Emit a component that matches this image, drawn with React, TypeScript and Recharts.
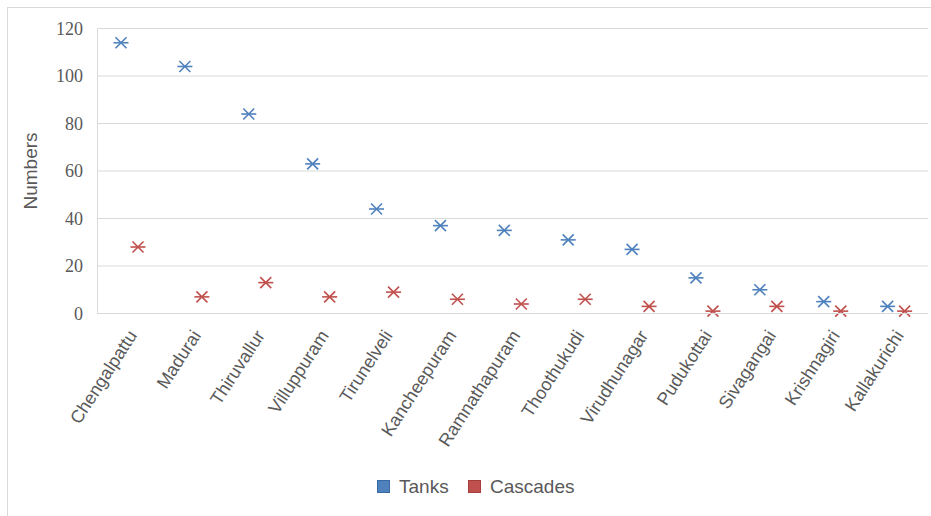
import React from "react";
import { BarChart, Bar, XAxis, YAxis, CartesianGrid } from "recharts";

const districts = [
  "Chengalpattu",
  "Madurai",
  "Thiruvallur",
  "Villuppuram",
  "Tirunelveli",
  "Kancheepuram",
  "Ramnathapuram",
  "Thoothukudi",
  "Virudhunagar",
  "Pudukottai",
  "Sivagangai",
  "Krishnagiri",
  "Kallakurichi",
];
const tanks = [114, 104, 84, 63, 44, 37, 35, 31, 27, 15, 10, 5, 3];
const cascades = [28, 7, 13, 7, 9, 6, 4, 6, 3, 1, 3, 1, 1];
const yTicks = [0, 20, 40, 60, 80, 100, 120];
const seriesNames = ["Tanks", "Cascades"];

const data = districts.map((d, i) => ({ name: d, Tanks: tanks[i], Cascades: cascades[i] }));

const BLUE = "#4F81BD";
const RED = "#C0504D";
const GRID = "#D9D9D9";
const TEXT = "#595959";
const SANS = "'Liberation Sans', Arial, sans-serif";
const SERIF = "'Liberation Serif', 'Times New Roman', serif";

const makeStar = (color: string) => (props: any) => {
  const { x, y, width } = props;
  const cx = x + width / 2;
  const cy = y;
  return (
    <g stroke={color} strokeWidth={1.6} fill="none">
      <line x1={cx - 7.5} y1={cy} x2={cx + 7.5} y2={cy} />
      <line x1={cx - 5.5} y1={cy - 5.5} x2={cx + 5.5} y2={cy + 5.5} />
      <line x1={cx - 5.5} y1={cy + 5.5} x2={cx + 5.5} y2={cy - 5.5} />
    </g>
  );
};

const XTick = (props: any) => {
  const { x, y, payload } = props;
  return (
    <g transform={`translate(${x + 3},${y + 18.5})`}>
      <text
        transform="rotate(-57)"
        textAnchor="end"
        dy="0.35em"
        fontSize={18}
        fill={TEXT}
        fontFamily={SANS}
      >
        {payload.value}
      </text>
    </g>
  );
};

const YLabel = () => (
  <text
    x={30}
    y={171}
    transform="rotate(-90, 30, 171)"
    textAnchor="middle"
    dominantBaseline="central"
    fontSize={19}
    fill={TEXT}
    fontFamily={SANS}
  >
    Numbers
  </text>
);

const legendItems = [
  { label: seriesNames[0], color: BLUE, border: "#3A6AA3", sx: 377, tx: 399 },
  { label: seriesNames[1], color: RED, border: "#A33E3B", sx: 468, tx: 490 },
];

const LegendBlock = () => (
  <div style={{ position: "absolute", left: 0, top: 472, width: 931, height: 30 }}>
    {legendItems.map((it) => (
      <React.Fragment key={it.label}>
        <div
          style={{
            position: "absolute",
            left: it.sx,
            top: 8,
            width: 13,
            height: 13,
            background: it.color,
            border: `1px solid ${it.border}`,
            boxSizing: "border-box",
          }}
        />
        <div
          style={{
            position: "absolute",
            left: it.tx,
            top: 3,
            fontSize: 19,
            lineHeight: "23px",
            color: TEXT,
            fontFamily: SANS,
            whiteSpace: "nowrap",
          }}
        >
          {it.label}
        </div>
      </React.Fragment>
    ))}
  </div>
);

export default function App() {
  return (
    <div style={{ position: "absolute", left: 0, top: 0, width: 931, height: 516, background: "#fff" }}>
      <div
        style={{
          position: "absolute",
          left: 7,
          top: 7,
          width: 924,
          height: 509,
          borderLeft: `1px solid ${GRID}`,
          borderTop: `1px solid ${GRID}`,
        }}
      />
      <div style={{ position: "absolute", left: 0, top: 0 }}>
        <BarChart
          width={931}
          height={516}
          data={data}
          margin={{ top: 28.5, right: 3, left: 0, bottom: 52.5 }}
          barSize={17}
          barGap={0}
        >
          <CartesianGrid vertical={false} stroke={GRID} strokeWidth={1} />
          <XAxis
            dataKey="name"
            interval={0}
            height={150}
            tickSize={0}
            tickMargin={0}
            tickLine={false}
            axisLine={{ stroke: GRID }}
            tick={<XTick />}
          />
          <YAxis
            width={97.5}
            domain={[0, 120]}
            ticks={yTicks}
            interval={0}
            tickSize={0}
            tickMargin={14.5}
            tickLine={false}
            axisLine={{ stroke: GRID }}
            tick={{ fontSize: 18, fill: TEXT, fontFamily: SERIF }}
          />
          <Bar dataKey="Tanks" fill={BLUE} shape={makeStar(BLUE)} isAnimationActive={false} />
          <Bar dataKey="Cascades" fill={RED} shape={makeStar(RED)} isAnimationActive={false} />
          <YLabel />
        </BarChart>
      </div>
      <LegendBlock />
    </div>
  );
}
